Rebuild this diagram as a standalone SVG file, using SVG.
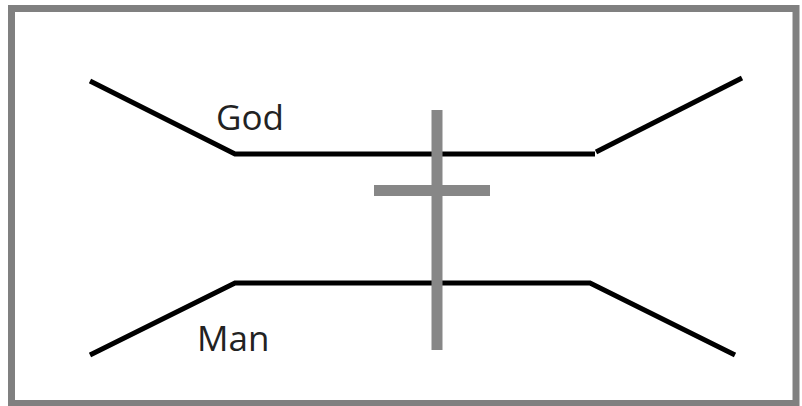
<svg xmlns="http://www.w3.org/2000/svg" width="802" height="406" viewBox="0 0 802 406">
<style>
.ln{stroke:#000;stroke-width:5;fill:none;stroke-linejoin:miter}
.cr{stroke:#878787;stroke-width:11;fill:none}
.lbl{font-family:"Open Sans","Liberation Sans",sans-serif;font-size:35px;fill:#222}
</style>
<rect width="802" height="406" fill="#fff"/>
<rect x="11.5" y="8.5" width="784.5" height="395" fill="none" stroke="#808080" stroke-width="7"/>
<g id="connectors">
<g id="god-path">
<polyline class="ln" points="90,81 235,154 595,154"/>
<line class="ln" x1="596" y1="152" x2="742" y2="78"/>
</g>
<g id="man-path">
<polyline class="ln" points="90,355 235,283 590,283 735,355"/>
</g>
</g>
<g id="cross">
<line class="cr" x1="437" y1="110" x2="437" y2="350"/>
<line class="cr" x1="374" y1="190.5" x2="490" y2="190.5"/>
</g>
<g id="god"><text class="lbl" x="216" y="130">God</text></g>
<g id="man"><text class="lbl" x="197" y="351">Man</text></g>
</svg>
